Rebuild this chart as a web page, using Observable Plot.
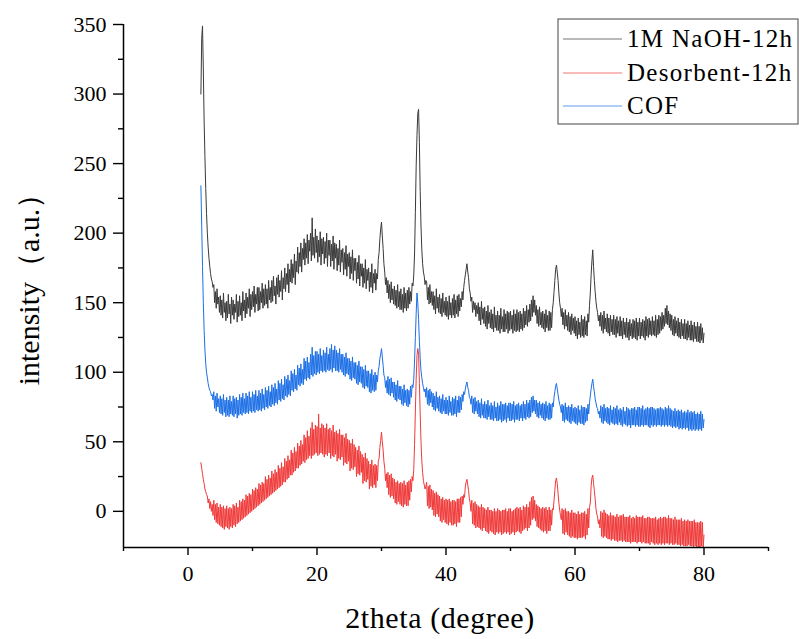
<!DOCTYPE html>
<html><head><meta charset="utf-8">
<script src="https://cdn.jsdelivr.net/npm/d3@7"></script>
<script src="https://cdn.jsdelivr.net/npm/@observablehq/plot@0.6"></script>
<style>body{margin:0;background:#fff;} svg text{font-family:'Times New Roman','Liberation Serif',serif;}</style>
</head><body><div id="chart"></div>
<script>
const seriesNames = ["1M NaOH-12h", "Desorbent-12h", "COF"];
const seriesColors = ["#3a3a3a", "#f03a3a", "#1c6fe6"];
const thetaStart = 2, thetaStep = 0.125;

const naoh = [
/*2*/ 300,340,349,318,280,255,232,214,
/*3*/ 200,190,182,176,171,167,165,161,
/*4*/ 163,150,158,146,160,149,154,143,
/*5*/ 155,141,152,139,157,143,150,137,
/*6*/ 151,139,156,142,149,135,154,141,
/*7*/ 152,138,149,143,156,136,151,140,
/*8*/ 155,141,150,137,158,144,152,139,
/*9*/ 157,142,154,146,160,140,156,145,
/*10*/ 158,147,162,143,156,149,161,144,
/*11*/ 161,145,158,150,164,146,160,148,
/*12*/ 163,149,160,146,166,152,161,150,
/*13*/ 166,151,169,155,162,149,168,156,
/*14*/ 170,154,166,158,173,152,168,160,
/*15*/ 175,158,171,163,178,157,174,165,
/*16*/ 181,164,178,168,185,163,180,172,
/*17*/ 190,171,186,176,193,172,189,181,
/*18*/ 196,177,193,182,199,178,195,187,
/*19*/ 200,180,211,184,197,182,203,186,
/*20*/ 198,179,195,183,201,177,196,185,
/*21*/ 197,178,194,182,200,176,195,184,
/*22*/ 195,176,192,180,198,174,193,182,
/*23*/ 192,173,189,177,195,172,188,179,
/*24*/ 189,170,186,174,191,169,185,176,
/*25*/ 186,167,183,171,188,166,182,173,
/*26*/ 182,164,179,167,184,162,178,169,
/*27*/ 178,161,175,164,181,160,174,166,
/*28*/ 175,158,172,161,178,157,171,164,
/*29*/ 174,159,171,167,181,186,196,203,
/*30*/ 208,198,189,178,172,163,168,157,
/*31*/ 166,153,163,150,165,152,160,149,
/*32*/ 162,148,159,146,163,147,158,145,
/*33*/ 160,145,156,143,161,146,157,144,
/*34*/ 159,146,161,149,158,151,164,162,
/*35*/ 170,185,215,248,270,286,289,265,
/*36*/ 230,205,188,178,172,169,163,166,
/*37*/ 165,152,161,149,163,150,158,148,
/*38*/ 158,145,155,142,160,146,154,143,
/*39*/ 156,142,153,140,157,143,151,141,
/*40*/ 154,140,151,138,155,141,150,139,
/*41*/ 153,141,156,139,152,142,155,140,
/*42*/ 156,144,153,147,158,152,161,166,
/*43*/ 170,174,178,172,168,160,157,151,
/*44*/ 154,143,151,145,150,140,148,142,
/*45*/ 150,137,147,134,151,138,146,135,
/*46*/ 147,133,144,131,148,135,143,132,
/*47*/ 145,131,142,129,147,132,141,130,
/*48*/ 144,130,141,128,146,131,140,129,
/*49*/ 145,129,142,131,144,128,143,130,
/*50*/ 144,131,141,128,145,130,142,129,
/*51*/ 145,130,143,129,144,131,142,130,
/*52*/ 146,132,144,134,148,133,145,136,
/*53*/ 149,137,152,140,155,143,152,141,
/*54*/ 148,135,145,133,147,134,143,132,
/*55*/ 144,131,142,129,145,132,141,130,
/*56*/ 144,130,143,132,145,150,158,166,
/*57*/ 174,177,172,166,157,150,146,140,
/*58*/ 146,134,143,131,145,133,141,130,
/*59*/ 143,129,140,127,142,130,139,128,
/*60*/ 140,126,137,124,139,127,136,125,
/*61*/ 141,126,138,125,140,127,137,126,
/*62*/ 142,136,148,157,170,180,188,176,
/*63*/ 166,158,151,146,143,137,141,133,
/*64*/ 143,130,141,128,144,131,139,129,
/*65*/ 142,128,139,126,141,129,138,127,
/*66*/ 141,127,138,125,140,128,137,126,
/*67*/ 140,126,137,124,139,127,136,125,
/*68*/ 139,125,136,123,138,126,135,124,
/*69*/ 138,125,137,124,139,123,136,126,
/*70*/ 139,124,136,126,138,125,137,123,
/*71*/ 140,126,138,125,139,127,137,126,
/*72*/ 140,127,137,126,141,125,138,127,
/*73*/ 141,128,140,130,143,131,141,133,
/*74*/ 146,135,148,134,144,132,142,130,
/*75*/ 141,127,138,126,140,128,137,126,
/*76*/ 139,125,136,124,138,126,135,124,
/*77*/ 138,124,135,123,137,125,134,123,
/*78*/ 137,123,134,122,136,124,133,122,
/*79*/ 136,122,133,121,135,123,132,121,
/*80*/ 128
];

const desorbent = [
/*2*/ 35,31,27,23,20,16,14,12,
/*3*/ 11,6,9,2,7,0,5,-3,
/*4*/ 8,-6,5,-8,6,-9,3,-10,
/*5*/ 5,-11,3,-12,4,-13,2,-11,
/*6*/ 4,-12,2,-13,3,-11,2,-12,
/*7*/ 5,-10,4,-11,6,-9,3,-8,
/*8*/ 8,-7,7,-6,9,-5,8,-4,
/*9*/ 12,-3,11,-2,13,-1,12,0,
/*10*/ 16,1,15,2,17,3,16,4,
/*11*/ 20,5,19,6,21,7,20,8,
/*12*/ 25,9,23,10,26,11,24,12,
/*13*/ 29,13,27,14,30,15,28,16,
/*14*/ 33,17,31,18,35,19,32,21,
/*15*/ 38,21,36,23,40,24,37,26,
/*16*/ 44,26,42,28,46,29,43,31,
/*17*/ 49,31,47,33,51,34,48,36,
/*18*/ 55,35,53,37,58,38,54,40,
/*19*/ 60,38,64,40,59,41,62,42,
/*20*/ 61,40,70,41,60,42,63,41,
/*21*/ 62,39,60,41,63,40,59,42,
/*22*/ 60,38,58,40,62,39,57,41,
/*23*/ 58,36,56,38,59,37,55,39,
/*24*/ 55,33,53,35,56,34,52,36,
/*25*/ 51,29,49,31,52,30,48,32,
/*26*/ 46,25,44,27,47,26,43,28,
/*27*/ 41,20,39,22,42,21,38,23,
/*28*/ 36,16,34,18,37,17,33,19,
/*29*/ 34,17,33,22,36,38,46,51,
/*30*/ 57,50,44,36,31,22,27,17,
/*31*/ 28,12,26,10,27,11,24,9,
/*32*/ 23,6,21,5,22,7,20,5,
/*33*/ 21,4,20,3,22,5,19,4,
/*34*/ 21,4,22,8,23,14,25,22,
/*35*/ 30,48,72,95,112,117,113,92,
/*36*/ 70,50,36,28,22,19,16,18,
/*37*/ 21,4,18,2,19,3,16,1,
/*38*/ 15,-3,13,-4,14,-2,12,-4,
/*39*/ 11,-7,9,-8,10,-6,8,-8,
/*40*/ 9,-9,8,-10,9,-8,7,-10,
/*41*/ 8,-10,8,-9,7,-11,9,-8,
/*42*/ 9,-8,10,-4,11,5,12,10,
/*43*/ 18,21,23,19,15,9,6,0,
/*44*/ 8,-9,6,-10,7,-12,5,-11,
/*45*/ 4,-12,3,-13,5,-14,3,-12,
/*46*/ 2,-14,1,-15,3,-16,1,-14,
/*47*/ 1,-15,0,-16,2,-17,0,-15,
/*48*/ 2,-16,1,-15,0,-17,1,-16,
/*49*/ 1,-15,2,-16,0,-15,2,-17,
/*50*/ 2,-16,0,-15,1,-17,2,-15,
/*51*/ 3,-14,2,-15,3,-16,1,-14,
/*52*/ 4,-13,3,-12,5,-14,3,-12,
/*53*/ 7,-10,10,-6,11,-5,8,-7,
/*54*/ 5,-11,4,-12,3,-13,2,-14,
/*55*/ 3,-15,2,-14,3,-16,1,-14,
/*56*/ 3,-14,1,-10,2,1,8,15,
/*57*/ 22,24,20,13,6,1,-3,-6,
/*58*/ 2,-16,1,-17,2,-15,0,-17,
/*59*/ 0,-18,-1,-19,1,-18,-1,-19,
/*60*/ -1,-19,-2,-20,0,-19,-2,-19,
/*61*/ -1,-19,-1,-18,0,-20,-2,-17,
/*62*/ 2,-12,3,6,18,24,26,20,
/*63*/ 15,9,2,-2,-4,-9,-6,-12,
/*64*/ 0,-18,-1,-19,1,-18,-1,-19,
/*65*/ -2,-20,-3,-20,-1,-21,-3,-20,
/*66*/ -3,-21,-4,-21,-2,-22,-4,-21,
/*67*/ -3,-21,-3,-22,-2,-21,-4,-22,
/*68*/ -4,-22,-4,-22,-3,-23,-5,-22,
/*69*/ -4,-22,-5,-22,-3,-23,-4,-22,
/*70*/ -4,-22,-4,-23,-3,-22,-5,-23,
/*71*/ -5,-23,-4,-23,-4,-24,-5,-22,
/*72*/ -5,-23,-5,-24,-4,-23,-6,-24,
/*73*/ -5,-23,-4,-24,-5,-23,-4,-24,
/*74*/ -4,-23,-5,-23,-3,-24,-5,-23,
/*75*/ -5,-24,-6,-24,-4,-23,-6,-24,
/*76*/ -6,-24,-6,-25,-5,-24,-7,-25,
/*77*/ -6,-25,-7,-25,-6,-24,-7,-25,
/*78*/ -7,-25,-7,-26,-6,-25,-8,-26,
/*79*/ -8,-26,-8,-26,-7,-25,-8,-26,
/*80*/ -17
];

const cof = [
/*2*/ 234,205,176,150,130,116,106,100,
/*3*/ 96,92,89,87,86,83,84,80,
/*4*/ 86,74,83,72,85,75,81,71,
/*5*/ 83,70,81,69,84,71,80,68,
/*6*/ 82,69,80,68,83,70,79,69,
/*7*/ 83,68,81,70,82,67,80,69,
/*8*/ 84,70,82,69,85,71,81,70,
/*9*/ 85,71,83,70,86,72,82,71,
/*10*/ 86,72,84,71,87,73,83,72,
/*11*/ 87,73,85,72,88,74,84,73,
/*12*/ 89,75,87,74,90,76,86,75,
/*13*/ 91,77,89,76,92,78,88,77,
/*14*/ 94,80,92,79,95,81,91,80,
/*15*/ 97,83,95,82,98,84,94,83,
/*16*/ 101,87,99,86,102,88,98,87,
/*17*/ 105,91,103,90,106,92,102,91,
/*18*/ 110,95,108,94,111,96,107,95,
/*19*/ 113,98,118,97,112,99,115,98,
/*20*/ 115,100,113,99,117,101,112,100,
/*21*/ 116,101,114,100,118,102,113,101,
/*22*/ 117,102,120,100,116,103,119,101,
/*23*/ 116,101,114,100,117,102,113,100,
/*24*/ 113,98,111,97,114,99,110,98,
/*25*/ 110,95,108,94,111,96,107,95,
/*26*/ 107,92,105,91,108,93,104,92,
/*27*/ 104,89,102,88,105,90,101,89,
/*28*/ 101,86,99,85,102,87,98,86,
/*29*/ 100,87,98,93,101,104,110,113,
/*30*/ 117,111,105,98,96,89,94,85,
/*31*/ 97,84,95,83,96,85,93,82,
/*32*/ 93,80,91,79,94,81,90,80,
/*33*/ 90,77,88,76,91,78,87,76,
/*34*/ 88,75,87,77,90,82,91,89,
/*35*/ 95,108,125,142,157,150,138,122,
/*36*/ 110,101,96,92,89,86,88,82,
/*37*/ 89,77,87,76,88,78,86,75,
/*38*/ 85,73,83,72,86,74,82,72,
/*39*/ 83,71,81,70,84,72,80,70,
/*40*/ 82,70,80,69,83,71,79,69,
/*41*/ 82,69,81,70,83,68,80,71,
/*42*/ 83,71,82,73,84,79,86,84,
/*43*/ 88,91,93,89,87,82,81,77,
/*44*/ 83,71,81,70,82,72,79,70,
/*45*/ 80,68,78,67,81,69,77,67,
/*46*/ 79,67,77,66,80,68,76,66,
/*47*/ 78,66,76,65,79,67,75,65,
/*48*/ 78,65,76,66,79,64,77,65,
/*49*/ 77,66,78,64,76,67,78,65,
/*50*/ 78,65,77,66,79,64,76,66,
/*51*/ 77,66,78,65,76,67,77,65,
/*52*/ 79,67,77,66,80,68,78,67,
/*53*/ 80,68,82,71,83,72,80,70,
/*54*/ 80,68,78,67,79,69,77,67,
/*55*/ 78,66,77,65,79,67,76,66,
/*56*/ 78,66,77,67,78,75,82,86,
/*57*/ 90,92,88,84,80,77,75,71,
/*58*/ 77,65,76,64,78,66,75,65,
/*59*/ 76,64,75,63,77,65,74,64,
/*60*/ 75,63,74,62,76,64,73,63,
/*61*/ 76,63,75,62,75,64,74,65,
/*62*/ 77,70,78,83,88,92,95,90,
/*63*/ 86,81,78,75,74,70,72,67,
/*64*/ 76,64,75,63,77,65,74,64,
/*65*/ 75,63,74,62,76,64,73,63,
/*66*/ 75,62,74,63,76,62,73,64,
/*67*/ 74,62,73,61,75,63,72,62,
/*68*/ 75,61,74,62,73,60,74,62,
/*69*/ 74,62,75,61,73,62,75,61,
/*70*/ 75,61,74,62,76,61,73,62,
/*71*/ 74,62,75,61,74,60,75,62,
/*72*/ 75,61,74,62,73,61,74,62,
/*73*/ 74,62,75,61,74,62,73,61,
/*74*/ 75,62,74,61,76,62,74,61,
/*75*/ 73,60,72,61,74,60,72,61,
/*76*/ 73,59,72,60,73,59,71,60,
/*77*/ 72,59,71,60,73,58,71,59,
/*78*/ 72,58,71,59,72,58,70,59,
/*79*/ 71,58,70,59,72,58,70,60,
/*80*/ 66
];

const xTicks = [0, 20, 40, 60, 80];
const xMinorTicks = [-10, 10, 30, 50, 70, 90];
const yTicks = [0, 50, 100, 150, 200, 250, 300, 350];
const yMinorTicks = [25, 75, 125, 175, 225, 275, 325];
const xLabel = "2theta (degree)";
const yLabel = "intensity（a.u.）";

const serif = "'Times New Roman', 'Liberation Serif', serif";
const seriesValues = [naoh, desorbent, cof];
const rows = [];
seriesValues.forEach((vals, k) => {
  vals.forEach((v, i) => rows.push({theta: thetaStart + i * thetaStep, intensity: v, series: seriesNames[k]}));
});

const chart = Plot.plot({
  width: 799,
  height: 639,
  marginLeft: 123,
  marginRight: 31,
  marginTop: 24,
  marginBottom: 92,
  style: {fontFamily: serif, fontSize: "22px", color: "#000", background: "#fff"},
  x: {domain: [-10, 90]},
  y: {domain: [-26, 350]},
  color: {domain: seriesNames, range: seriesColors},
  marks: [
    Plot.lineY(rows, {x: "theta", y: "intensity", z: "series", stroke: "series", strokeWidth: 1}),
    Plot.ruleX([-10], {stroke: "#000", strokeWidth: 1.5}),
    Plot.ruleY([-26], {stroke: "#000", strokeWidth: 1.5}),
    Plot.axisX({ticks: xTicks, tickSize: 8, tickPadding: 10, label: null, fontSize: 22, fontFamily: serif, strokeWidth: 1.4}),
    Plot.axisX({ticks: xMinorTicks, tickSize: 4, tickFormat: () => "", label: null, strokeWidth: 1.4}),
    Plot.axisY({ticks: yTicks, tickSize: 10, tickPadding: 7, label: null, fontSize: 22, fontFamily: serif, strokeWidth: 1.4}),
    Plot.axisY({ticks: yMinorTicks, tickSize: 5, tickFormat: () => "", label: null, strokeWidth: 1.4})
  ]
});
document.getElementById("chart").appendChild(chart);

const svg = d3.select(chart);
svg.append("text")
  .attr("x", 440).attr("y", 628)
  .attr("text-anchor", "middle")
  .attr("font-family", serif).attr("font-size", 30)
  .attr("letter-spacing", 0.6)
  .attr("fill", "#000")
  .text(xLabel);
svg.append("text")
  .attr("transform", "translate(39,282) rotate(-90)")
  .attr("text-anchor", "middle")
  .attr("font-family", serif).attr("font-size", 30)
  .attr("fill", "#000")
  .text(yLabel);

const lg = svg.append("g");
lg.append("rect").attr("x", 558).attr("y", 19).attr("width", 240).attr("height", 105)
  .attr("fill", "#fff").attr("stroke", "#444").attr("stroke-width", 1);
const lineYs = [39, 73, 106];
seriesNames.forEach((name, k) => {
  lg.append("line").attr("x1", 563).attr("x2", 622).attr("y1", lineYs[k]).attr("y2", lineYs[k])
    .attr("stroke", seriesColors[k]).attr("stroke-width", 1).attr("stroke-opacity", 0.7);
  lg.append("text").attr("x", 627).attr("y", lineYs[k] + 8)
    .attr("text-anchor", "start")
    .attr("font-family", serif).attr("font-size", 25).attr("letter-spacing", 1.3)
    .attr("fill", "#000").text(name);
});
</script>
</body></html>
